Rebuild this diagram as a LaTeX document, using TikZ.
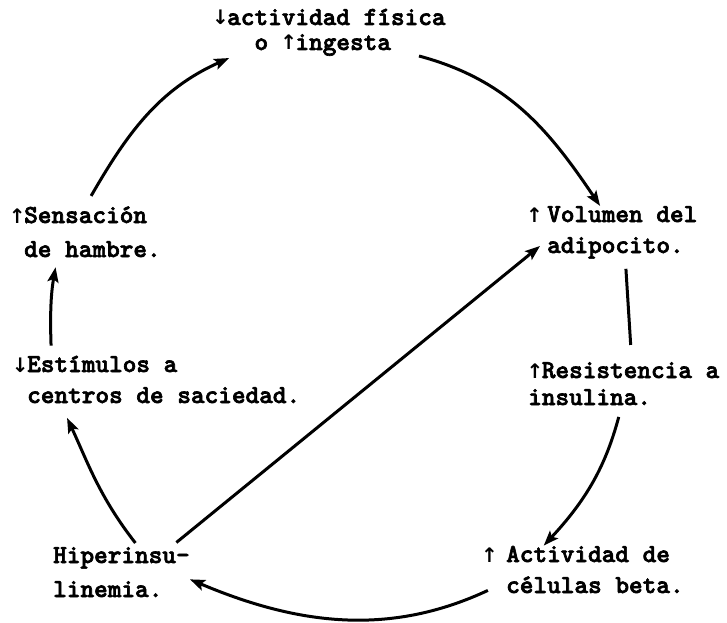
\documentclass[tikz,border=0pt]{standalone}
\usepackage{fontspec}
\usetikzlibrary{arrows.meta}
\newfontfamily\tw{lmmonolt10-bold.otf}[FakeBold=2.5]
\newfontfamily\arrfont{DejaVu Sans}
\newcommand\arrup{\makebox[0.525em]{\arrfont\bfseries\fontsize{20}{20}\selectfont ↑}}
\newcommand\arrdn{\makebox[0.525em]{\arrfont\bfseries\fontsize{20}{20}\selectfont ↓}}
\begin{document}
\begin{tikzpicture}[x=1pt,y=1pt,
    txt/.style={anchor=base west,inner sep=0pt,align=left,
      font=\tw\fontsize{26}{#1}\selectfont},
    txt/.default=31,
    arr/.style={line width=3pt,-{Stealth[length=15pt,width=11pt,inset=3pt]}}]
    \useasboundingbox (0,0) rectangle (727,622);
    % the seven steps of the cycle (placed at the baseline of their last line)
    \node[txt=25] (act) at (227,572) {\llap{\arrdn}actividad física\\\phantom{ac}o \arrup ingesta};
    \node[txt] (vol) at (547,369) {\llap{\arrup\hspace{6pt}}Volumen del\\adipocito.};
    \node[txt=27] (res) at (528,217) {\arrup Resistencia a\\insulina.};
    \node[txt] (cel) at (506,29) {\llap{\arrup\hspace{10pt}}Actividad de\\células beta.};
    \node[txt=34] (hip) at (53,25) {Hiperinsu-\\linemia.};
    \node[txt] (est) at (27,219) {\llap{\arrdn}Estímulos a\\centros de saciedad.};
    \node[txt=34] (sen) at (24,365) {\llap{\arrup}Sensación\\de hambre.};
    % arrows round the circle
    \draw[arr] (act.-16) to[out=-15,in=124] (vol.130);
    \draw[line width=3pt,shorten <=10pt,shorten >=17pt] ([xshift=3pt]vol.south) -- ([xshift=8pt]res.north);
    \draw[arr,shorten <=12pt] (res.-95) to[out=-105,in=47] (cel.155);
    \draw[arr,shorten <=20pt] (cel.188) to[out=205,in=-23] (hip.-6);
    \draw[arr,shorten <=7pt,shorten >=9pt] (hip.27) -- (vol.186);
    \draw[arr,shorten <=5pt,shorten >=16pt] (hip.56) to[out=128,in=-65] (est.-167);
    \draw[arr,shorten <=10pt,shorten >=10pt] (est.168) to[out=92,in=-100] (sen.216);
    \draw[arr,shorten <=12pt,shorten >=5pt] (sen.106) to[out=60,in=204] (act.193);
\end{tikzpicture}
\end{document}
